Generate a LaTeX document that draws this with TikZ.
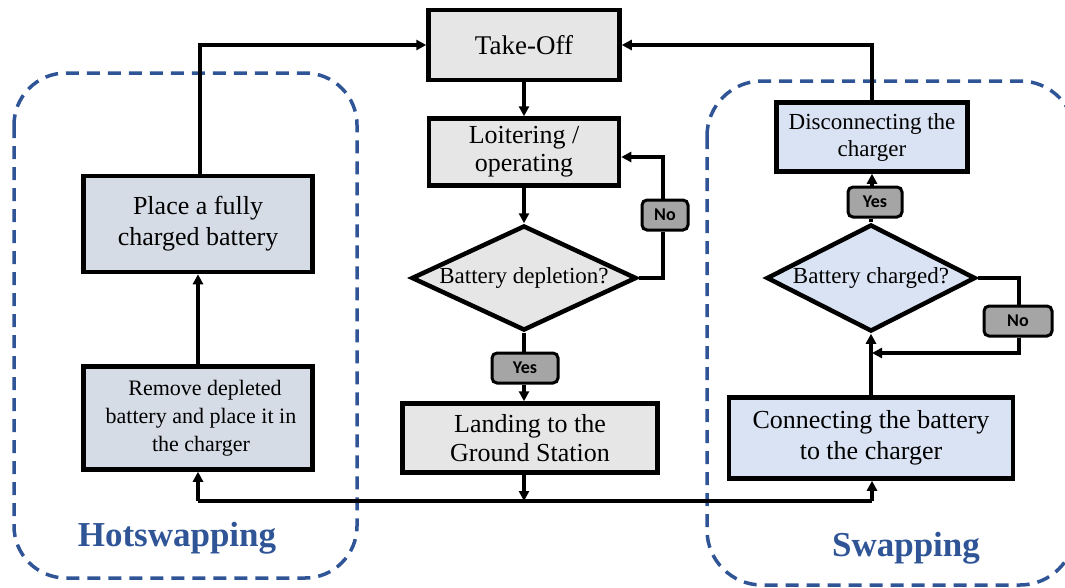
\documentclass[tikz,border=0pt]{standalone}
\usepackage{fontspec}
\setmainfont{Liberation Serif}
\newfontfamily\lblfont{Carlito}
\usetikzlibrary{arrows.meta,shapes.geometric}
\definecolor{grayfill}{HTML}{E7E6E6}
\definecolor{hotfill}{HTML}{D6DCE5}
\definecolor{swapfill}{HTML}{DAE3F3}
\definecolor{lblfill}{HTML}{A5A5A5}
\definecolor{dashblue}{HTML}{2F5597}
\newcommand{\fs}[2]{\fontsize{#1}{#2}\selectfont}
\begin{document}
\begin{tikzpicture}[x=1pt,y=-1pt,
  boxnode/.style={draw=black,line width=4.5pt,inner sep=0pt,align=center},
  dia/.style={draw=black,line width=4.5pt,shape=diamond,inner sep=0pt,align=center},
  lbl/.style={draw=black,line width=3pt,rounded corners=5pt,fill=lblfill,inner sep=0pt,
     minimum height=30pt,font=\lblfont\bfseries\fontsize{18}{20}\selectfont},
  conn/.style={line width=3.5pt,-{Triangle[length=10pt,width=10pt]}},
  plain/.style={line width=3.5pt},
  region/.style={draw=dashblue,line width=3.5pt,dash pattern=on 13pt off 8pt,rounded corners=52pt},
  regtitle/.style={text=dashblue,font=\bfseries\fontsize{35}{38}\selectfont}
]
\useasboundingbox (0,0) rectangle (1065,587);

% regions
\draw[region] (14,73) rectangle (357,578);
\draw[region,rounded corners=55pt] (707,81) rectangle (1075,585);
\node[regtitle] (hot) at (177,538) {Hotswapping};
\node[regtitle] (swp) at (906,548) {Swapping};

% centre column
\node[boxnode,fill=grayfill,minimum width=191pt,minimum height=70pt,font=\fs{27}{30}] (take) at (524,45) {Take-Off};
\node[boxnode,fill=grayfill,minimum width=190pt,minimum height=67pt,font=\fs{26}{29}] (loit) at (524,152) {Loitering /\\[-1pt]operating};
\node[dia,aspect=2.14,fill=grayfill,minimum width=225pt,minimum height=105pt,font=\fs{23}{26}] (dep) at (524,278) {Battery depletion?};
\node[lbl,minimum width=66pt] (yes1) at (525,368) {Yes};
\node[lbl,minimum width=46pt] (no1) at (665,215) {No};
\node[boxnode,fill=grayfill,minimum width=255pt,minimum height=69pt,font=\fs{26}{30}] (land) at (530,438) {Landing to the\\[-1pt]Ground Station};

% left column
\node[boxnode,fill=hotfill,minimum width=229pt,minimum height=96pt,font=\fs{26}{30}] (place) at (198,224) {Place a fully\\[1pt]charged battery};
\node[boxnode,fill=hotfill,minimum width=229pt,minimum height=103pt,font=\fs{22}{26}] (remove) at (198,418) {\hspace*{14pt}Remove depleted\\[2pt]\hspace*{6pt}battery and place it in\\[2pt]\hspace*{6pt}the charger};

% right column
\node[boxnode,fill=swapfill,minimum width=191pt,minimum height=69pt,font=\fs{23}{26}] (disc) at (872,137) {Disconnecting the\\[1pt]charger};
\node[lbl,minimum width=54pt] (yes2) at (875,202) {Yes};
\node[dia,aspect=1.95,fill=swapfill,minimum width=209pt,minimum height=107pt,font=\fs{23}{26}] (chg) at (871,278) {Battery charged?};
\node[lbl,minimum width=68pt] (no2) at (1018,321) {No};
\node[boxnode,fill=swapfill,minimum width=284pt,minimum height=81pt,font=\fs{26}{30}] (conn) at (871,438) {Connecting the battery\\[1pt]to the charger};

% helper coordinates
\coordinate (bus) at (524,501);
\coordinate (busL) at (198,501);
\coordinate (busR) at (872,501);
\coordinate (topL) at (200,45);
\coordinate (topR) at (872,45);
\coordinate (loopA) at (663,278);
\coordinate (loopB) at (663,157);
\coordinate (loopC) at (1019,278);
\coordinate (loopD) at (1019,353);
\coordinate (loopE) at (872,353);

% centre connectors
\draw[conn] (take.south) -- (loit.north);
\draw[conn] (loit.south) -- (dep.north);
\draw[plain] (dep.south) -- (yes1.north -| dep.south);
\draw[conn] (yes1.south -| dep.south) -- (land.north -| dep.south);
\draw[plain] (dep.east) -- (loopA) -- (no1.south -| loopA);
\draw[conn] (no1.north -| loopA) -- (loopB) -- (loit.east |- loopB);
\draw[conn] (land.south -| bus) -- (bus);
\draw[plain] (busL) -- (busR);
\draw[conn] (busL) -- (remove.south -| busL);
\draw[conn] (busR) -- (conn.south -| busR);

% left connectors
\draw[conn] (remove.north -| place.south) -- (place.south);
\draw[conn] (place.north -| topL) -- (topL) -- (take.west);

% right connectors
\draw[conn] (conn.north -| chg.south) -- (chg.south);
\draw[plain] (chg.north) -- (yes2.south -| chg.north);
\draw[conn] (yes2.north -| disc.south) -- (disc.south);
\draw[conn] (disc.north -| topR) -- (topR) -- (take.east);
\draw[plain] (chg.east) -- (loopC) -- (no2.north -| loopC);
\draw[conn] (no2.south -| loopC) -- (loopD) -- (loopE);
\end{tikzpicture}
\end{document}
